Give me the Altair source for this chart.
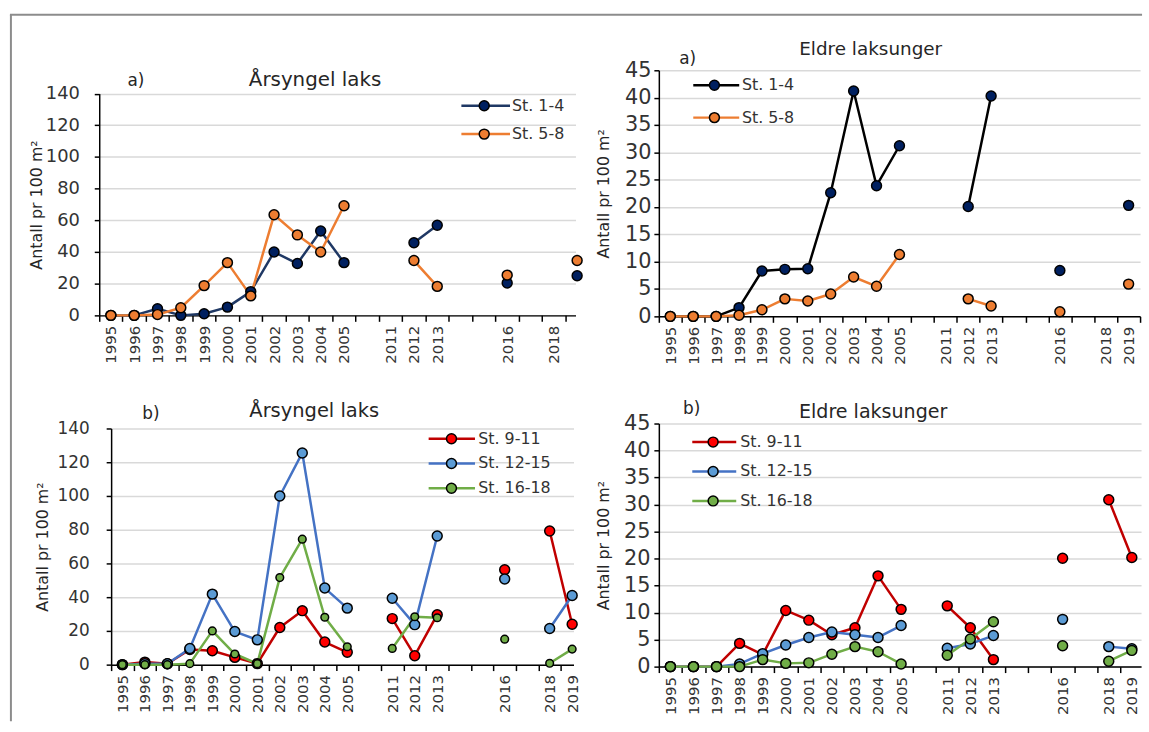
import json
import altair as alt
import pandas as pd

# ---------------- data ----------------
categories = ["1995", "1996", "1997", "1998", "1999", "2000", "2001", "2002", "2003", "2004", "2005",
              "", "2011", "2012", "2013", "", "", "2016", "", "2018", "2019"]

# a) Årsyngel laks (top left)
tl_order = ["St. 1-4", "St. 5-8"]
tl_st1_4 = [0, 0, 4.2, 0, 1, 5.2, 15, 40, 32.7, 53.3, 33.3, None, None, 45.8, 56.9, None, None, 20.4, None, None, 25]
tl_st5_8 = [0, 0, 0.5, 4.8, 18.8, 33.3, 12.3, 63.5, 50.8, 40, 69.2, None, None, 34.6, 18.3, None, None, 25.4, None, None, 34.6]

# a) Eldre laksunger (top right)
tr_order = ["St. 1-4", "St. 5-8"]
tr_st1_4 = [0, 0, 0, 1.6, 8.3, 8.6, 8.7, 22.6, 41.2, 23.9, 31.2, None, None, 20.1, 40.3, None, None, 8.4, None, None, 20.3]
tr_st5_8 = [0, 0, 0, 0.2, 1.2, 3.2, 2.8, 4.1, 7.2, 5.5, 11.3, None, None, 3.2, 1.9, None, None, 0.85, None, None, 5.9]

# b) Årsyngel laks (bottom left)
bl_order = ["St. 9-11", "St. 12-15", "St. 16-18"]
bl_st9_11 = [0, 1.5, 0.5, 9, 8.2, 4.3, 0.6, 22, 32, 13.4, 7.3, None, 27.3, 5.3, 29.6, None, None, 56.3, None, 79.2, 23.9]
bl_st12_15 = [0, 0.5, 0.5, 9.6, 41.8, 19.6, 14.7, 100, 125.5, 45.4, 33.5, None, 39.4, 23.7, 76.3, None, None, 50.8, None, 21.4, 41]
bl_st16_18 = [0, 0, 0, 0.6, 20, 6.3, 0.6, 51.6, 74.4, 28.1, 10.6, None, 9.6, 28.4, 27.8, None, None, 15.1, None, 0.8, 9.2]

# b) Eldre laksunger (bottom right)
br_order = ["St. 9-11", "St. 12-15", "St. 16-18"]
br_st9_11 = [0, 0, 0, 4.3, 2.2, 10.4, 8.6, 5.9, 7.2, 16.8, 10.6, None, 11.25, 7.2, 1.3, None, None, 20.06, None, 30.9, 20.2]
br_st12_15 = [0, 0, 0, 0.5, 2.4, 4.0, 5.4, 6.4, 5.9, 5.4, 7.6, None, 3.4, 4.2, 5.75, None, None, 8.75, None, 3.7, 3.3]
br_st16_18 = [0, 0, 0, 0, 1.3, 0.6, 0.7, 2.3, 3.7, 2.75, 0.5, None, 2.1, 5.1, 8.3, None, None, 3.85, None, 1.0, 3.0]

FONT = "DejaVu Sans"
TXT = "#333333"
YTITLE = "Antall pr 100 m²"
LINE_SYMBOL = "M-5,0H5"
MARK_SIZE = 100

label_expr = "datum.value % 1 !== 0 ? '' : " + json.dumps(categories) + "[datum.value]"


def long_df(series, order):
    rows = []
    for name, vals in zip(order, series):
        seg = 0
        prev = False
        for i, v in enumerate(vals):
            if v is None:
                prev = False
                continue
            if not prev:
                seg += 1
            prev = True
            rows.append({"idx": i, "value": v, "series": name, "series_f": name,
                         "seg": f"{name}-{seg}"})
    return pd.DataFrame(rows)


def text_layer(txt, x, y, size):
    return alt.Chart(pd.DataFrame({"t": [txt]})).mark_text(
        font=FONT, fontSize=size, color="#262626", align="center", baseline="middle"
    ).encode(text="t:N", x=alt.value(x), y=alt.value(y))


def panel(series, order, line_colors, fill_colors, *, ymax, ystep, width, height, xmax,
          xrange=None, yrange=None, y_offset=0, ylab_size, ylab_pad, title_pad,
          leg, title, title_xy, title_size, tag, tag_xy, small=None, extra=()):
    df = long_df(series, order)
    xvals = [k / 2 for k in range(-1, 42) if k / 2 <= xmax + 1e-9]
    yvals = list(range(0, ymax + 1, ystep))

    xs = dict(domain=[-0.5, xmax], nice=False, zero=False)
    if xrange:
        xs["range"] = xrange
    ys = dict(domain=[0, ymax], nice=False)
    if yrange:
        ys["range"] = yrange

    x = alt.X("idx:Q", scale=alt.Scale(**xs), title=None, axis=alt.Axis(
        values=xvals, labelExpr=label_expr, labelAngle=-90, labelOverlap=False, labelFlush=False,
        tickOpacity={"condition": {"test": "datum.value % 1 === 0", "value": 0}, "value": 1},
        tickSize=6, tickWidth=1.5, tickColor="black", domainColor="black", domainWidth=1.5,
        grid=False, labelPadding=4, labelFont=FONT, labelFontSize=15, labelColor=TXT))
    y = alt.Y("value:Q", scale=alt.Scale(**ys), title=YTITLE, axis=alt.Axis(
        values=yvals, grid=True, gridColor="#d9d9d9", gridWidth=1.5, tickSize=5, tickWidth=1.5,
        tickColor="black", domainColor="black", domainWidth=1.5, labelFont=FONT,
        labelFontSize=ylab_size, labelColor=TXT, labelPadding=ylab_pad, titleFont=FONT,
        titleFontSize=16, titleFontWeight="normal", titleColor="#262626",
        titlePadding=title_pad, offset=y_offset))

    L = leg["L"]
    sym_off = L / 2 - 8
    lines = alt.Chart(df).mark_line(strokeWidth=2.5, strokeJoin="round", strokeCap="round").encode(
        x=x, y=y, detail="seg:N",
        color=alt.Color("series:N", sort=order, scale=alt.Scale(range=line_colors), title=None,
                        legend=alt.Legend(orient="none", legendX=leg["x"], legendY=leg["y"],
                                          symbolType=LINE_SYMBOL, symbolSize=(L / 5) ** 2,
                                          symbolOffset=sym_off,
                                          symbolStrokeWidth=2.5, symbolOpacity=1,
                                          labelFont=FONT, labelFontSize=16, labelColor=TXT,
                                          labelOffset=leg["lab"] - 16 - sym_off,
                                          rowPadding=leg["rp"], padding=0)))
    if small:
        size = alt.condition(f"datum.series == '{small}'", alt.value(60), alt.value(MARK_SIZE))
    else:
        size = alt.value(MARK_SIZE)
    points = alt.Chart(df).mark_circle(opacity=1, stroke="black", strokeWidth=1.5).encode(
        x=x, y=y, size=size,
        fill=alt.Fill("series_f:N", sort=order, scale=alt.Scale(range=fill_colors), title=None,
                      legend=alt.Legend(orient="none", legendX=leg["x"], legendY=leg["y"],
                                        symbolType="circle", symbolSize=MARK_SIZE,
                                        symbolOffset=leg["c"] - 8,
                                        symbolStrokeColor="black",
                                        symbolStrokeWidth=1.5, symbolOpacity=1,
                                        labelExpr="''", labelFont=FONT, labelFontSize=16,
                                        rowPadding=leg["rp"], padding=0)))
    layers = list(extra) + [lines, points,
                            text_layer(title, title_xy[0], title_xy[1], title_size),
                            text_layer(tag, tag_xy[0], tag_xy[1], 17)]
    return alt.layer(*layers).properties(width=width, height=height)


one = pd.DataFrame({"k": [0]})
frame_v = alt.Chart(one).mark_rule(color="#8c8c8c", strokeWidth=2).encode(
    x=alt.value(-89), y=alt.value(-56), y2=alt.value(656))
frame_h = alt.Chart(one).mark_rule(color="#8c8c8c", strokeWidth=2).encode(
    x=alt.value(-90), x2=alt.value(1051), y=alt.value(-56))

# legend geometry (relative to each panel): x = line start, L = line length,
# c = circle centre offset from x, lab = label offset from x, y = top, rp = row padding
tl = panel([tl_st1_4, tl_st5_8], tl_order, ["#1F3864", "#ED7D31"], ["#002060", "#ED7D31"],
           ymax=140, ystep=20, width=480, height=247, xmax=19.93, yrange=[247, 23.5],
           ylab_size=18, ylab_pad=15, title_pad=1,
           leg=dict(x=365, L=49, c=23, lab=51, y=27.7, rp=12.6),
           title="Årsyngel laks", title_xy=(217.5, 10), title_size=20, tag="a)", tag_xy=(37, 11),
           extra=[frame_v, frame_h])

tr = panel([tr_st1_4, tr_st5_8], tr_order, ["#000000", "#ED7D31"], ["#002060", "#ED7D31"],
           ymax=45, ystep=5, width=485, height=248, xmax=20.5,
           ylab_size=21, ylab_pad=3, title_pad=13,
           leg=dict(x=34.7, L=46.3, c=21.3, lab=49, y=7, rp=16.7),
           title="Eldre laksunger", title_xy=(213.5, -21), title_size=18.5, tag="a)", tag_xy=(29, -11))

bl = panel([bl_st9_11, bl_st12_15, bl_st16_18], bl_order, ["#C00000", "#4472C4", "#70AD47"],
           ["#FF0000", "#5B9BD5", "#70AD47"],
           ymax=140, ystep=20, width=478, height=243, xmax=20.06, xrange=[12, 478], yrange=[243, 5],
           y_offset=-12, ylab_size=17, ylab_pad=17, title_pad=7,
           leg=dict(x=332, L=46.7, c=23, lab=50, y=7.3, rp=9),
           title="Årsyngel laks", title_xy=(216.7, -13), title_size=19.6, tag="b)", tag_xy=(52, -10),
           small="St. 16-18")

br = panel([br_st9_11, br_st12_15, br_st16_18], br_order, ["#C00000", "#4472C4", "#70AD47"],
           ["#FF0000", "#5B9BD5", "#70AD47"],
           ymax=45, ystep=5, width=486, height=245, xmax=20.4,
           ylab_size=21, ylab_pad=4, title_pad=12,
           leg=dict(x=33.7, L=44.3, c=21, lab=48.3, y=10.7, rp=13.65),
           title="Eldre laksunger", title_xy=(216, -12), title_size=19.2, tag="b)", tag_xy=(33, -15))

chart = alt.concat(tl, tr, bl, br, columns=2, spacing={"row": 108, "column": 84},
                   bounds="flush").resolve_scale(
    color="independent", fill="independent"
).properties(
    padding={"left": 8, "top": 10, "right": 0, "bottom": 0}
).configure_view(stroke="transparent")

chart.save("out.html", embed_options={"renderer": "svg", "actions": False})
